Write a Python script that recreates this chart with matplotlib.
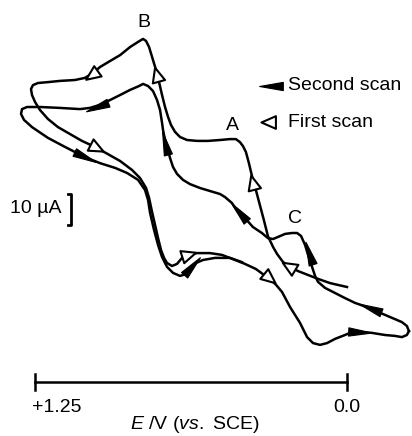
import numpy as np
import matplotlib
matplotlib.use('Agg')
import matplotlib.pyplot as plt
from matplotlib.markers import MarkerStyle
from matplotlib.path import Path

plt.rcParams['font.family'] = ['Liberation Sans', 'DejaVu Sans']
plt.rcParams['mathtext.fontset'] = 'custom'
plt.rcParams['mathtext.it'] = 'Liberation Sans:italic'
plt.rcParams['mathtext.rm'] = 'Liberation Sans'

# первый цикл: E / V (vs. SCE), I / мкА
scan1_E = [0.000, 0.068, 0.116, 0.156, 0.196, 0.228, 0.256, 0.280, 0.296, 0.317,
           0.333, 0.349, 0.365, 0.377, 0.393, 0.405, 0.417, 0.429, 0.445, 0.469,
           0.509, 0.557, 0.601, 0.641, 0.669, 0.689, 0.705, 0.717, 0.729, 0.741,
           0.753, 0.765, 0.781, 0.793, 0.805, 0.817, 0.837, 0.869, 0.909, 0.950,
           0.990, 1.018, 1.050, 1.090, 1.150, 1.198, 1.238, 1.258, 1.266, 1.262,
           1.250, 1.230, 1.198, 1.158, 1.110, 1.062, 1.010, 0.958, 0.909, 0.861,
           0.829, 0.805, 0.793, 0.781, 0.769, 0.757, 0.745, 0.733, 0.721, 0.701,
           0.681, 0.661, 0.637, 0.601, 0.549, 0.501, 0.457, 0.409, 0.365, 0.337,
           0.308, 0.284, 0.260, 0.228, 0.188, 0.160, 0.136, 0.108, 0.080, 0.048,
           0.008, -0.020, -0.052, -0.100, -0.152, -0.192, -0.220, -0.240, -0.248]
scan1_I = [1.0, 2.3, 3.7, 5.0, 6.3, 7.7, 9.3, 12.0, 14.3, 18.0,
           23.3, 28.3, 33.3, 36.7, 42.3, 46.0, 48.0, 49.3, 50.3, 50.3,
           50.0, 49.7, 49.7, 50.0, 51.0, 52.7, 55.0, 57.7, 61.0, 65.0,
           69.3, 73.3, 77.7, 81.0, 83.0, 83.7, 82.7, 81.0, 78.3, 76.3,
           74.3, 72.3, 70.7, 70.0, 69.7, 69.3, 69.0, 68.3, 67.0, 65.0,
           62.7, 60.0, 57.0, 54.3, 52.0, 49.7, 47.7, 45.3, 43.0, 40.0,
           37.3, 34.0, 30.7, 26.0, 21.7, 17.3, 13.3, 10.7, 9.0, 8.0,
           8.7, 10.7, 11.7, 12.3, 12.3, 11.7, 10.3, 8.7, 7.0, 5.3,
           3.7, 1.7, -0.7, -5.7, -11.0, -15.7, -17.7, -18.3, -17.7, -16.3,
           -15.0, -14.0, -14.0, -14.3, -15.0, -15.3, -15.7, -15.0, -13.7]

# второй цикл
scan2_E = [-0.248, -0.240, -0.220, -0.172, -0.124, -0.080, -0.032, 0.008, 0.048, 0.088,
           0.116, 0.128, 0.140, 0.156, 0.168, 0.184, 0.200, 0.220, 0.248, 0.276,
           0.296, 0.317, 0.341, 0.377, 0.409, 0.437, 0.461, 0.489, 0.509, 0.549,
           0.589, 0.629, 0.657, 0.681, 0.697, 0.709, 0.717, 0.729, 0.737, 0.741,
           0.749, 0.761, 0.777, 0.797, 0.817, 0.833, 0.869, 0.909, 0.950, 0.990,
           1.030, 1.070, 1.150, 1.230, 1.282, 1.302, 1.306, 1.294, 1.262, 1.198,
           1.130, 1.050, 0.990, 0.929, 0.881, 0.837, 0.809, 0.797, 0.789, 0.773,
           0.757, 0.741, 0.721, 0.697, 0.669, 0.645, 0.625, 0.605, 0.577, 0.529,
           0.469, 0.421]
scan2_I = [-13.7, -12.0, -10.7, -9.0, -7.3, -5.7, -4.3, -2.7, -1.0, 0.7,
           2.7, 4.7, 7.7, 11.7, 15.0, 18.0, 19.0, 19.0, 18.7, 17.7,
           17.0, 17.3, 19.0, 21.0, 24.0, 26.0, 29.0, 31.0, 32.0, 33.0,
           34.0, 35.3, 36.7, 38.7, 41.0, 44.0, 46.7, 50.0, 53.3, 55.7,
           60.0, 63.3, 66.3, 68.0, 68.7, 68.0, 66.7, 65.0, 63.3, 61.7,
           60.7, 60.3, 60.7, 61.0, 61.0, 60.3, 58.7, 56.7, 54.3, 50.7,
           47.7, 44.3, 42.3, 40.7, 39.0, 36.7, 33.3, 30.0, 25.7, 20.0,
           15.0, 11.0, 7.7, 5.7, 4.7, 5.3, 7.3, 9.0, 10.0, 10.7,
           10.7, 9.3]

# стрелки на кривых
open_E = [0.228, 0.377, 0.761, 1.018, 1.010, 0.641, 0.317]
open_I = [7.7, 35.3, 71.3, 72.0, 47.7, 11.7, 4.3]
fill_E = [-0.052, -0.092, 0.152, 0.433, 0.729, 1.002, 1.050, 0.621]
fill_I = [-14.0, -6.0, 12.3, 26.0, 49.0, 61.0, 44.3, 8.0]

peak_names = ['A', 'B', 'C']
peak_E = [0.457, 0.813, 0.208]
peak_I = [55.0, 89.3, 23.7]


def main():
    fig = plt.figure(figsize=(4.12, 4.36), dpi=100)
    ax = fig.add_axes([0, 0, 1, 1])
    ax.set_xlim(1.3902, -0.2604)
    ax.set_ylim(-48.67, 96.67)
    ax.axis('off')

    lw = 1.8
    ax.plot(scan1_E, scan1_I, color='black', lw=lw, solid_joinstyle='round')
    ax.plot(scan2_E, scan2_I, color='black', lw=lw, solid_joinstyle='round')

    tri = Path([(1, 0), (-0.6, 0.7), (-0.6, -0.7), (1, 0)],
               [Path.MOVETO, Path.LINETO, Path.LINETO, Path.CLOSEPOLY])
    wedge = Path([(1, 0), (-1, 0.35), (-1, -0.35), (1, 0)],
                 [Path.MOVETO, Path.LINETO, Path.LINETO, Path.CLOSEPOLY])

    # направление стрелки берём по ходу кривой
    path_E = scan1_E + scan2_E
    path_I = scan1_I + scan2_I
    pts = ax.transData.transform(np.column_stack([path_E, path_I]))

    def angle(x, y):
        p = ax.transData.transform((x, y))
        i = int(np.argmin(np.hypot(*(pts - p).T)))
        a = pts[max(i - 1, 0)]
        b = pts[min(i + 1, len(pts) - 1)]
        return np.degrees(np.arctan2(b[1] - a[1], b[0] - a[0]))

    for x, y in zip(open_E, open_I):
        m = MarkerStyle(tri).rotated(deg=angle(x, y))
        ax.plot(x, y, marker=m, ms=13, mfc='white', mec='black', mew=1.5, zorder=3)
    for x, y in zip(fill_E, fill_I):
        m = MarkerStyle(wedge).rotated(deg=angle(x, y))
        ax.plot(x, y, marker=m, ms=17, mfc='black', mec='black', mew=0.8, zorder=3)

    fs = 14
    for name, x, y in zip(peak_names, peak_E, peak_I):
        ax.text(x, y, name, fontsize=fs, ha='center', va='center')

    # легенда
    ax.plot(0.304, 68.0, marker=MarkerStyle(wedge).rotated(deg=180), ms=17,
            mfc='black', mec='black', mew=0.8)
    ax.plot(0.308, 56.0, marker=MarkerStyle(tri).rotated(deg=180), ms=13,
            mfc='white', mec='black', mew=1.5)
    ax.text(0.236, 68.3, 'Second scan', fontsize=fs, ha='left', va='center')
    ax.text(0.236, 56.0, 'First scan', fontsize=fs, ha='left', va='center')

    # масштаб тока
    ax.text(1.350, 27.3, '10 \u00b5A', fontsize=fs, ha='left', va='center')
    ax.plot([1.118, 1.106, 1.106, 1.118], [32.0, 32.0, 21.5, 21.5],
            color='black', lw=2)

    # шкала потенциала
    ax.plot([1.25, 0.0], [-30.7, -30.7], color='black', lw=lw)
    ax.plot([1.25, 1.25], [-28.0, -33.3], color='black', lw=lw)
    ax.plot([0.0, 0.0], [-28.0, -33.3], color='black', lw=lw)
    ax.text(1.262, -39.3, '+1.25', fontsize=fs, ha='left', va='center')
    ax.text(0.0, -39.3, '0.0', fontsize=fs, ha='center', va='center')
    ax.text(0.609, -44.9, r'$E$ /V ($vs.$ SCE)', fontsize=fs, ha='center', va='center')

    fig.savefig('out.png', dpi=100)


if __name__ == '__main__':
    main()
